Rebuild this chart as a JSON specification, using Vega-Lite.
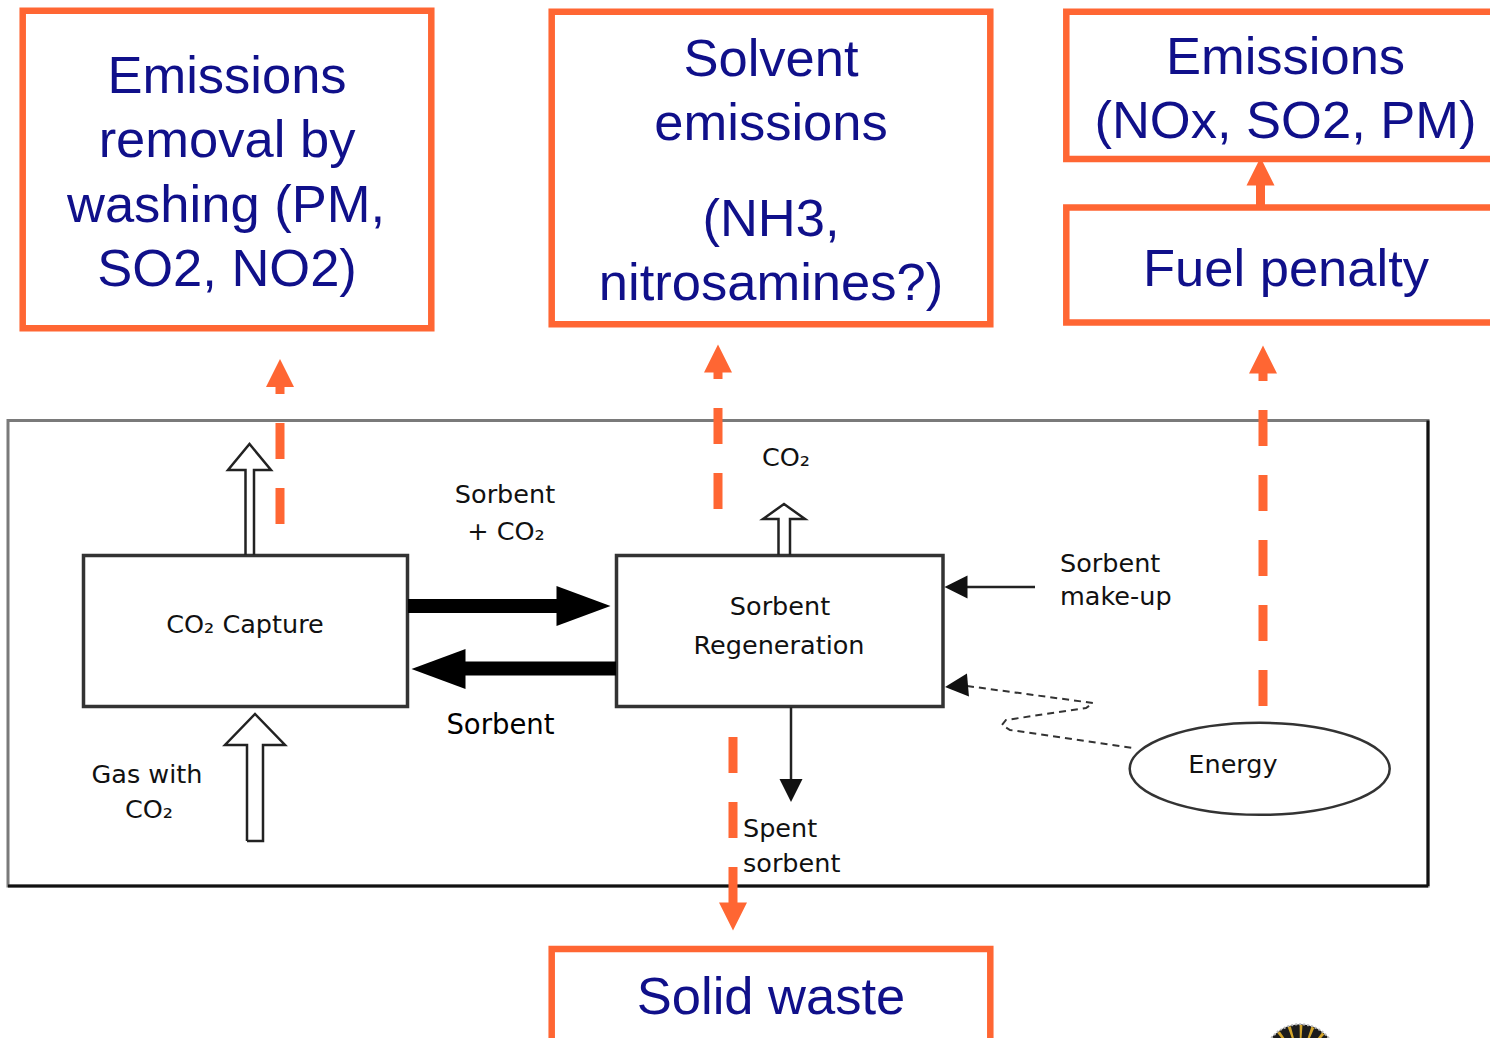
{
  "$schema": "https://vega.github.io/schema/vega-lite/v6.json",
  "width": 1490,
  "height": 1038,
  "padding": 0,
  "autosize": {"type": "none"},
  "background": "white",
  "config": {"view": {"stroke": null}},
  "datasets": {
    "orangeBoxes": [
      {"x": 22.7, "x2": 431.3, "y": 10.7, "y2": 328.3},
      {"x": 551.7, "x2": 990.3, "y": 11.7, "y2": 324.3},
      {"x": 1066.3, "x2": 1510, "y": 11.7, "y2": 159},
      {"x": 1066.3, "x2": 1510, "y": 207.5, "y2": 322.5},
      {"x": 551.7, "x2": 990.3, "y": 949, "y2": 1060}
    ],
    "frame": [{"x": 8, "x2": 1428, "y": 420.5, "y2": 886}],
    "frameDark": [
      {"x": 8, "x2": 1428, "y": 886, "y2": 886},
      {"x": 1428, "x2": 1428, "y": 420.5, "y2": 886}
    ],
    "innerBoxes": [
      {"x": 83.5, "x2": 407.5, "y": 555.5, "y2": 706.5},
      {"x": 616.5, "x2": 943, "y": 555.5, "y2": 706.5}
    ],
    "orangeDashes": [
      {"x": 280, "y": 524, "y2": 387},
      {"x": 718, "y": 509, "y2": 372},
      {"x": 1263, "y": 706, "y2": 373},
      {"x": 733, "y": 737, "y2": 904}
    ],
    "orangeStems": [{"x": 1260.5, "y": 205, "y2": 184}],
    "orangeHeads": [
      {"x": 280, "y": 373, "angle": 0},
      {"x": 718, "y": 358.5, "angle": 0},
      {"x": 1263, "y": 359.5, "angle": 0},
      {"x": 733, "y": 916.5, "angle": 180},
      {"x": 1260.5, "y": 171.5, "angle": 0}
    ],
    "thickShafts": [
      {"x": 408, "x2": 560, "y": 606},
      {"x": 616, "x2": 462, "y": 668.5}
    ],
    "bigHeads": [
      {"x": 583.5, "y": 606, "angle": 90},
      {"x": 438.5, "y": 669, "angle": 270}
    ],
    "thinLines": [
      {"x": 1035, "x2": 965, "y": 587, "y2": 587},
      {"x": 791, "x2": 791, "y": 707, "y2": 781}
    ],
    "smallHeads": [
      {"x": 956, "y": 587, "angle": 270},
      {"x": 791, "y": 790.5, "angle": 180},
      {"x": 956.5, "y": 686, "angle": 265}
    ],
    "hollow": [
      {"id": "a", "i": 0, "x": 245.5, "y": 555},
      {"id": "a", "i": 1, "x": 245.5, "y": 470},
      {"id": "a", "i": 2, "x": 228, "y": 470},
      {"id": "a", "i": 3, "x": 249.5, "y": 444},
      {"id": "a", "i": 4, "x": 271, "y": 470},
      {"id": "a", "i": 5, "x": 254, "y": 470},
      {"id": "a", "i": 6, "x": 254, "y": 555},
      {"id": "b", "i": 0, "x": 778.5, "y": 555},
      {"id": "b", "i": 1, "x": 778.5, "y": 519},
      {"id": "b", "i": 2, "x": 763, "y": 519},
      {"id": "b", "i": 3, "x": 784, "y": 504},
      {"id": "b", "i": 4, "x": 805, "y": 519},
      {"id": "b", "i": 5, "x": 790, "y": 519},
      {"id": "b", "i": 6, "x": 790, "y": 555},
      {"id": "c", "i": 0, "x": 247, "y": 841},
      {"id": "c", "i": 1, "x": 247, "y": 745},
      {"id": "c", "i": 2, "x": 225, "y": 745},
      {"id": "c", "i": 3, "x": 255, "y": 714},
      {"id": "c", "i": 4, "x": 285, "y": 745},
      {"id": "c", "i": 5, "x": 263, "y": 745},
      {"id": "c", "i": 6, "x": 263, "y": 841},
      {"id": "c", "i": 7, "x": 247, "y": 841}
    ],
    "zigzag": [
      {"i": 0, "x": 967, "y": 686},
      {"i": 1, "x": 1093, "y": 703},
      {"i": 2, "x": 1086, "y": 708},
      {"i": 3, "x": 1006, "y": 720},
      {"i": 4, "x": 1002, "y": 725},
      {"i": 5, "x": 1010, "y": 730},
      {"i": 6, "x": 1133, "y": 748}
    ],
    "energy": [{"x": 1259.7, "y": 768.8}],
    "logo": [{"x": 1300, "y": 1061}],
    "bigText": [
      {"x": 227, "y": 93, "text": "Emissions"},
      {"x": 227, "y": 157, "text": "removal by"},
      {"x": 226, "y": 222, "text": "washing (PM,"},
      {"x": 227, "y": 286, "text": "SO2, NO2)"},
      {"x": 771, "y": 76, "text": "Solvent"},
      {"x": 771, "y": 140, "text": "emissions"},
      {"x": 771, "y": 236, "text": "(NH3,"},
      {"x": 771, "y": 300, "text": "nitrosamines?)"},
      {"x": 1285.5, "y": 74, "text": "Emissions"},
      {"x": 1285.5, "y": 138, "text": "(NOx, SO2, PM)"},
      {"x": 1286, "y": 286, "text": "Fuel penalty"},
      {"x": 771, "y": 1014, "text": "Solid waste"}
    ],
    "textC": [
      {"x": 245, "y": 633, "text": "CO₂ Capture"},
      {"x": 505, "y": 503, "text": "Sorbent"},
      {"x": 506, "y": 540, "text": "+ CO₂"},
      {"x": 780, "y": 615, "text": "Sorbent"},
      {"x": 779, "y": 654, "text": "Regeneration"},
      {"x": 786, "y": 466, "text": "CO₂"},
      {"x": 147, "y": 783, "text": "Gas with"},
      {"x": 149, "y": 818, "text": "CO₂"},
      {"x": 1233, "y": 773, "text": "Energy"}
    ],
    "textB": [
      {"x": 500.5, "y": 733.5, "text": "Sorbent"}
    ],
    "textL": [
      {"x": 1060, "y": 572, "text": "Sorbent"},
      {"x": 1060, "y": 605, "text": "make-up"},
      {"x": 743, "y": 837, "text": "Spent"},
      {"x": 743, "y": 872, "text": "sorbent"}
    ]
  },
  "encoding": {
    "x": {"field": "x", "type": "quantitative", "scale": {"domain": [0, 1490], "nice": false, "zero": false}, "axis": null},
    "y": {"field": "y", "type": "quantitative", "scale": {"domain": [0, 1038], "nice": false, "zero": false, "reverse": true}, "axis": null}
  },
  "layer": [
    {
      "data": {"name": "frame"},
      "mark": {"type": "rect", "fill": null, "fillOpacity": 0, "stroke": "#7a7a7a", "strokeWidth": 3},
      "encoding": {"x2": {"field": "x2"}, "y2": {"field": "y2"}}
    },
    {
      "data": {"name": "frameDark"},
      "mark": {"type": "rule", "stroke": "#111111", "strokeWidth": 3},
      "encoding": {"x2": {"field": "x2"}, "y2": {"field": "y2"}}
    },
    {
      "data": {"name": "innerBoxes"},
      "mark": {"type": "rect", "fill": null, "fillOpacity": 0, "stroke": "#333333", "strokeWidth": 3.5},
      "encoding": {"x2": {"field": "x2"}, "y2": {"field": "y2"}}
    },
    {
      "data": {"name": "thickShafts"},
      "mark": {"type": "rule", "stroke": "#000000", "strokeWidth": 14, "strokeCap": "butt"},
      "encoding": {"x2": {"field": "x2"}}
    },
    {
      "data": {"name": "bigHeads"},
      "mark": {"type": "point", "shape": "M0,-1 L0.74,1 L-0.74,1 Z", "size": 2916, "filled": true, "fill": "#000000", "strokeWidth": 0, "opacity": 1},
      "encoding": {"angle": {"field": "angle", "type": "quantitative", "scale": null}}
    },
    {
      "data": {"name": "thinLines"},
      "mark": {"type": "rule", "stroke": "#222222", "strokeWidth": 2.5},
      "encoding": {"x2": {"field": "x2"}, "y2": {"field": "y2"}}
    },
    {
      "data": {"name": "zigzag"},
      "mark": {"type": "line", "stroke": "#333333", "strokeWidth": 2, "strokeDash": [7, 5], "interpolate": "linear"},
      "encoding": {"order": {"field": "i", "type": "quantitative"}}
    },
    {
      "data": {"name": "smallHeads"},
      "mark": {"type": "point", "shape": "M0,-1 L1,1 L-1,1 Z", "size": 529, "filled": true, "fill": "#111111", "strokeWidth": 0, "opacity": 1},
      "encoding": {"angle": {"field": "angle", "type": "quantitative", "scale": null}}
    },
    {
      "data": {"name": "hollow"},
      "mark": {"type": "line", "stroke": "#222222", "strokeWidth": 2.5, "interpolate": "linear", "strokeJoin": "miter"},
      "encoding": {"detail": {"field": "id"}, "order": {"field": "i", "type": "quantitative"}}
    },
    {
      "data": {"name": "energy"},
      "mark": {"type": "point", "shape": "M-1,0 C-1,-0.1955 -0.5523,-0.354 0,-0.354 C0.5523,-0.354 1,-0.1955 1,0 C1,0.1955 0.5523,0.354 0,0.354 C-0.5523,0.354 -1,0.1955 -1,0 Z", "size": 67600, "filled": false, "stroke": "#333333", "strokeWidth": 2.5, "opacity": 1}
    },
    {
      "data": {"name": "orangeBoxes"},
      "mark": {"type": "rect", "fill": null, "fillOpacity": 0, "stroke": "#FF6633", "strokeWidth": 6.5, "clip": true},
      "encoding": {"x2": {"field": "x2"}, "y2": {"field": "y2"}}
    },
    {
      "data": {"name": "orangeDashes"},
      "mark": {"type": "rule", "stroke": "#FF6633", "strokeWidth": 9, "strokeDash": [36, 29], "strokeCap": "butt"},
      "encoding": {"y2": {"field": "y2"}}
    },
    {
      "data": {"name": "orangeStems"},
      "mark": {"type": "rule", "stroke": "#FF6633", "strokeWidth": 9, "strokeCap": "butt"},
      "encoding": {"y2": {"field": "y2"}}
    },
    {
      "data": {"name": "orangeHeads"},
      "mark": {"type": "point", "shape": "M0,-1 L1,1 L-1,1 Z", "size": 784, "filled": true, "fill": "#FF6633", "strokeWidth": 0, "opacity": 1},
      "encoding": {"angle": {"field": "angle", "type": "quantitative", "scale": null}}
    },
    {
      "data": {"name": "logo"},
      "mark": {"type": "point", "shape": "circle", "size": 5400, "filled": true, "fill": "#1c1c1c", "stroke": "#bbbbbb", "strokeWidth": 2, "strokeDash": [2, 2], "opacity": 1, "clip": true}
    },
    {
      "data": {"name": "logo"},
      "mark": {"type": "point", "shape": "circle", "size": 2300, "filled": false, "stroke": "#d4a52a", "strokeWidth": 24, "strokeDash": [2, 6], "opacity": 1, "clip": true}
    },
    {
      "data": {"name": "bigText"},
      "mark": {"type": "text", "font": "Liberation Sans", "fontSize": 52.5, "fill": "#10108A", "align": "center", "baseline": "alphabetic"},
      "encoding": {"text": {"field": "text"}}
    },
    {
      "data": {"name": "textC"},
      "mark": {"type": "text", "font": "DejaVu Sans", "fontSize": 25.5, "fill": "#111111", "align": "center", "baseline": "alphabetic"},
      "encoding": {"text": {"field": "text"}}
    },
    {
      "data": {"name": "textB"},
      "mark": {"type": "text", "font": "DejaVu Sans", "fontSize": 27.5, "fill": "#000000", "align": "center", "baseline": "alphabetic"},
      "encoding": {"text": {"field": "text"}}
    },
    {
      "data": {"name": "textL"},
      "mark": {"type": "text", "font": "DejaVu Sans", "fontSize": 25.5, "fill": "#111111", "align": "left", "baseline": "alphabetic"},
      "encoding": {"text": {"field": "text"}}
    }
  ]
}
